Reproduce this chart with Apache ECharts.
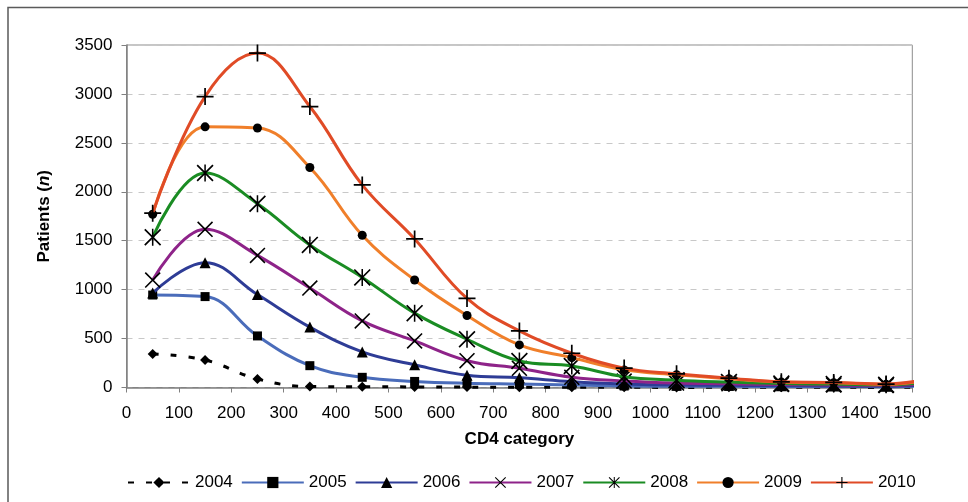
<!DOCTYPE html>
<html>
<head>
<meta charset="utf-8">
<script src="https://cdn.jsdelivr.net/npm/echarts@6/dist/echarts.min.js"></script>
<style>
  html, body { margin: 0; padding: 0; background: #ffffff; }
  #chart { width: 968px; height: 502px; }
</style>
</head>
<body>
<div id="chart"></div>
<script>
// CD4 category midpoints (last point is the line's run-out past the axis end)
const cd4 = [50, 150, 250, 350, 450, 550, 650, 750, 850, 950, 1050, 1150, 1250, 1350, 1450, 1520];
const years = ['2004', '2005', '2006', '2007', '2008', '2009', '2010'];

const y2004 = [343, 281, 87, 10, 8, 6, 4, 2, 2, 2, 1, 2, 2, 2, 1, 2];
const y2005 = [945, 929, 527, 223, 104, 62, 43, 35, 26, 15, 12, 12, 10, 10, 8, 15];
const y2006 = [965, 1276, 950, 617, 364, 232, 125, 100, 60, 36, 26, 22, 18, 16, 12, 25];
const y2007 = [1098, 1617, 1350, 1016, 680, 476, 274, 196, 104, 66, 45, 38, 30, 25, 20, 35];
const y2008 = [1536, 2192, 1878, 1457, 1125, 760, 493, 271, 220, 110, 75, 55, 40, 35, 28, 50];
const y2009 = [1771, 2664, 2652, 2248, 1556, 1098, 736, 435, 305, 180, 130, 90, 55, 48, 32, 65];
const y2010 = [1781, 2973, 3417, 2871, 2070, 1518, 910, 578, 350, 198, 140, 95, 58, 52, 35, 75];

const yTicks = [0, 500, 1000, 1500, 2000, 2500, 3000, 3500];
const xTicks = [0, 100, 200, 300, 400, 500, 600, 700, 800, 900, 1000, 1100, 1200, 1300, 1400, 1500];

const allValues = [y2004, y2005, y2006, y2007, y2008, y2009, y2010];
const colors = ['#000000', '#4a6cba', '#2e3c96', '#8e2389', '#1a8c23', '#f07f2a', '#e04b26'];

const PLUS = 'path://M9,0 h2 v9 h9 v2 h-9 v9 h-2 v-9 h-9 v-2 h9 z';
const CROSS = 'path://M0,1.4 L1.4,0 L20,18.6 L18.6,20 Z M18.6,0 L20,1.4 L1.4,20 L0,18.6 Z';
const STAR = 'path://M0,1.4 L1.4,0 L20,18.6 L18.6,20 Z M18.6,0 L20,1.4 L1.4,20 L0,18.6 Z M9.1,0 L10.9,0 L10.9,20 L9.1,20 Z';
const symbols = ['diamond', 'rect', 'triangle', CROSS, STAR, 'circle', PLUS];
const symSizes = [10, 9, 11, 16, 17, 9, 17];

const font = 'Liberation Sans, Arial, Helvetica, sans-serif';

const series = years.map((yr, i) => ({
  name: yr,
  type: 'line',
  data: cd4.map((x, j) => (j === cd4.length - 1
    ? { value: [x, allValues[i][j]], symbol: 'none' }
    : [x, allValues[i][j]])),
  smooth: 0.4,
  clip: false,
  symbol: symbols[i],
  symbolSize: symSizes[i],
  showAllSymbol: true,
  lineStyle: {
    color: colors[i],
    width: 3,
    type: i === 0 ? [6, 12] : 'solid'
  },
  itemStyle: { color: '#000000', borderWidth: 0 },
  emphasis: { disabled: true },
  z: 2 + i
}));

const chart = echarts.init(document.getElementById('chart'), null, { renderer: 'canvas' });
chart.setOption({
  animation: false,
  backgroundColor: '#ffffff',
  textStyle: { fontFamily: font },
  graphic: [{
    type: 'rect',
    shape: { x: 8, y: 7.5, width: 1200, height: 800 },
    style: { fill: 'none', stroke: '#5a5a5a', lineWidth: 1.5 },
    silent: true,
    z: 0
  }],
  grid: {
    left: 126.5, right: 55.7, top: 45, bottom: 114.5,
    show: true, borderColor: '#8c8c8c', borderWidth: 1, backgroundColor: 'transparent'
  },
  legend: {
    data: years,
    left: 122, top: 469,
    itemWidth: 62, itemHeight: 14, itemGap: 8,
    textStyle: { fontFamily: font, fontSize: 17, color: '#000' },
    selectedMode: false
  },
  xAxis: {
    type: 'value', min: 0, max: 1500, interval: 100,
    name: 'CD4 category', nameLocation: 'middle', nameGap: 43,
    nameTextStyle: { fontFamily: font, fontSize: 17, fontWeight: 'bold', color: '#000' },
    axisLine: { show: true, onZero: false, lineStyle: { color: '#808080', width: 1.5 } },
    axisTick: { show: true, length: 5, lineStyle: { color: '#808080' } },
    axisLabel: {
      margin: 17, fontSize: 17, color: '#000', fontFamily: font,
      formatter: v => (xTicks.indexOf(v) >= 0 ? String(v) : '')
    },
    splitLine: { show: false }
  },
  yAxis: {
    type: 'value', min: 0, max: 3500, interval: 500,
    name: '{b|Patients (}{i|n}{b|)}', nameLocation: 'middle', nameGap: 74, nameRotate: 90,
    nameTextStyle: {
      rich: {
        b: { fontFamily: font, fontSize: 17, fontWeight: 'bold', color: '#000' },
        i: { fontFamily: font, fontSize: 17, fontWeight: 'bold', fontStyle: 'italic', color: '#000' }
      }
    },
    axisLine: { show: true, lineStyle: { color: '#808080', width: 1.5 } },
    axisTick: { show: true, length: 5, lineStyle: { color: '#808080' } },
    axisLabel: {
      margin: 14, fontSize: 17, color: '#000', fontFamily: font,
      formatter: v => (yTicks.indexOf(v) >= 0 ? String(v) : '')
    },
    splitLine: { show: true, lineStyle: { color: '#c8c8c8', type: [6, 6], width: 1 } }
  },
  series: series
});
</script>
</body>
</html>
